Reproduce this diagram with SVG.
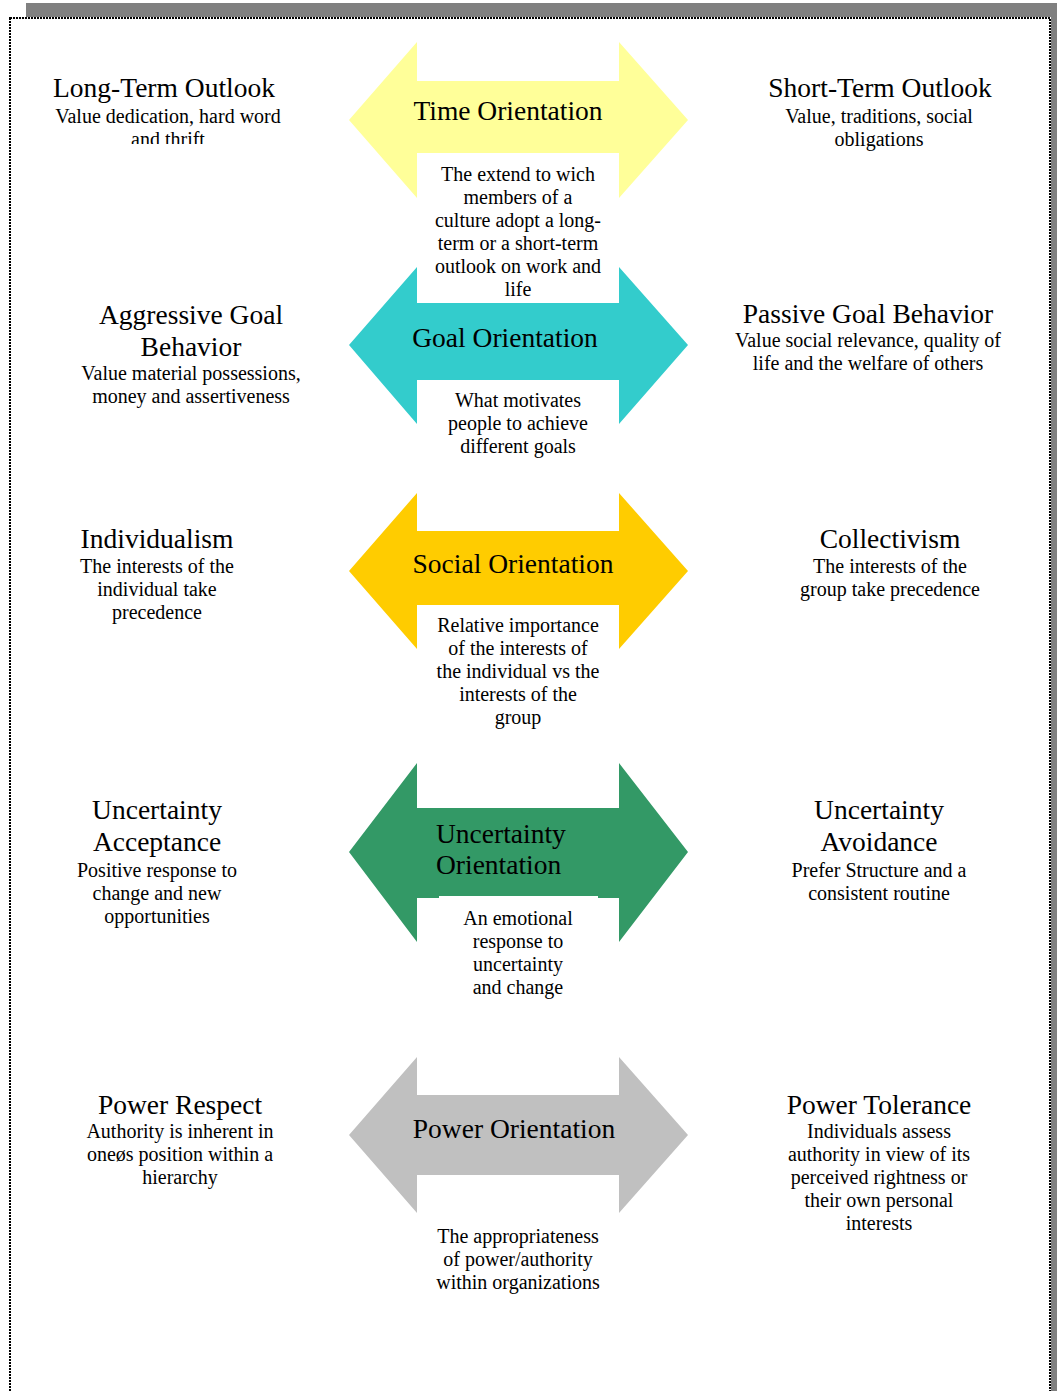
<svg xmlns="http://www.w3.org/2000/svg" width="1057" height="1391" viewBox="0 0 1057 1391">
<style>
text{font-family:"Liberation Serif","Times New Roman",serif;fill:#000;text-anchor:middle}
.t{font-size:27.5px}
.d{font-size:20px}
.l{text-anchor:start}
</style>
<defs>
<clipPath id="clipLT"><rect x="40" y="60" width="300" height="84"/></clipPath>
</defs>
<rect x="0" y="0" width="1057" height="1391" fill="#fff"/>
<g id="page">
<rect x="26" y="3" width="1031" height="14" fill="#808080"/>
<rect x="1051" y="3" width="6" height="1388" fill="#808080"/>
<rect x="10" y="18" width="1040" height="1400" fill="none" stroke="#000" stroke-width="2" stroke-dasharray="2 1"/>
</g>
<g id="connectors">
<polygon id="arrow-time" fill="#FFFF99" points="349,120 417,42 417,81 619,81 619,42 688,120 619,198 619,153 417,153 417,198"/>
<polygon id="arrow-goal" fill="#33CCCC" points="349,345 417,267 417,303 619,303 619,267 688,345 619,424 619,380 417,380 417,424"/>
<polygon id="arrow-social" fill="#FFCC00" points="349,571 417,493 417,531 619,531 619,493 688,571 619,649 619,605 417,605 417,649"/>
<polygon id="arrow-uncertainty" fill="#339966" points="349,852 417,763 417,808 619,808 619,763 688,852 619,942 619,898 417,898 417,942"/>
<rect x="439" y="896" width="159" height="4" fill="#fff"/>
<polygon id="arrow-power" fill="#C0C0C0" points="349,1135 417,1057 417,1095 619,1095 619,1057 688,1135 619,1213 619,1175 417,1175 417,1213"/>
</g>
<g id="time-orientation">
<text class="t" x="508" y="120">Time Orientation</text>
<text class="d" x="518" y="181">The extend to wich</text>
<text class="d" x="518" y="204">members of a</text>
<text class="d" x="518" y="227">culture adopt a long-</text>
<text class="d" x="518" y="250">term or a short-term</text>
<text class="d" x="518" y="273">outlook on work and</text>
<text class="d" x="518" y="296">life</text>
</g>
<g id="long-term-outlook">
<text class="t" x="164" y="97">Long-Term Outlook</text>
<text class="d" x="168" y="123">Value dedication, hard word</text>
<text class="d" x="168" y="146" clip-path="url(#clipLT)">and thrift</text>
</g>
<g id="short-term-outlook">
<text class="t" x="880" y="97">Short-Term Outlook</text>
<text class="d" x="879" y="123">Value, traditions, social</text>
<text class="d" x="879" y="146">obligations</text>
</g>
<g id="goal-orientation">
<text class="t" x="505" y="347">Goal Orientation</text>
<text class="d" x="518" y="407">What motivates</text>
<text class="d" x="518" y="430">people to achieve</text>
<text class="d" x="518" y="453">different goals</text>
</g>
<g id="aggressive-goal-behavior">
<text class="t" x="191" y="324">Aggressive Goal</text>
<text class="t" x="191" y="356">Behavior</text>
<text class="d" x="191" y="380">Value material possessions,</text>
<text class="d" x="191" y="403">money and assertiveness</text>
</g>
<g id="passive-goal-behavior">
<text class="t" x="868" y="323">Passive Goal Behavior</text>
<text class="d" x="868" y="347">Value social relevance, quality of</text>
<text class="d" x="868" y="370">life and the welfare of others</text>
</g>
<g id="social-orientation">
<text class="t" x="513" y="573">Social Orientation</text>
<text class="d" x="518" y="632">Relative importance</text>
<text class="d" x="518" y="655">of the interests of</text>
<text class="d" x="518" y="678">the individual vs the</text>
<text class="d" x="518" y="701">interests of the</text>
<text class="d" x="518" y="724">group</text>
</g>
<g id="individualism">
<text class="t" x="157" y="548">Individualism</text>
<text class="d" x="157" y="573">The interests of the</text>
<text class="d" x="157" y="596">individual take</text>
<text class="d" x="157" y="619">precedence</text>
</g>
<g id="collectivism">
<text class="t" x="890" y="548">Collectivism</text>
<text class="d" x="890" y="573">The interests of the</text>
<text class="d" x="890" y="596">group take precedence</text>
</g>
<g id="uncertainty-orientation">
<text class="t l" x="436" y="843">Uncertainty</text>
<text class="t l" x="436" y="874">Orientation</text>
<text class="d" x="518" y="925">An emotional</text>
<text class="d" x="518" y="948">response to</text>
<text class="d" x="518" y="971">uncertainty</text>
<text class="d" x="518" y="994">and change</text>
</g>
<g id="uncertainty-acceptance">
<text class="t" x="157" y="819">Uncertainty</text>
<text class="t" x="157" y="851">Acceptance</text>
<text class="d" x="157" y="877">Positive response to</text>
<text class="d" x="157" y="900">change and new</text>
<text class="d" x="157" y="923">opportunities</text>
</g>
<g id="uncertainty-avoidance">
<text class="t" x="879" y="819">Uncertainty</text>
<text class="t" x="879" y="851">Avoidance</text>
<text class="d" x="879" y="877">Prefer Structure and a</text>
<text class="d" x="879" y="900">consistent routine</text>
</g>
<g id="power-orientation">
<text class="t" x="514" y="1138">Power Orientation</text>
<text class="d" x="518" y="1243">The appropriateness</text>
<text class="d" x="518" y="1266">of power/authority</text>
<text class="d" x="518" y="1289">within organizations</text>
</g>
<g id="power-respect">
<text class="t" x="180" y="1114">Power Respect</text>
<text class="d" x="180" y="1138">Authority is inherent in</text>
<text class="d" x="180" y="1161">oneøs position within a</text>
<text class="d" x="180" y="1184">hierarchy</text>
</g>
<g id="power-tolerance">
<text class="t" x="879" y="1114">Power Tolerance</text>
<text class="d" x="879" y="1138">Individuals assess</text>
<text class="d" x="879" y="1161">authority in view of its</text>
<text class="d" x="879" y="1184">perceived rightness or</text>
<text class="d" x="879" y="1207">their own personal</text>
<text class="d" x="879" y="1230">interests</text>
</g>
</svg>
